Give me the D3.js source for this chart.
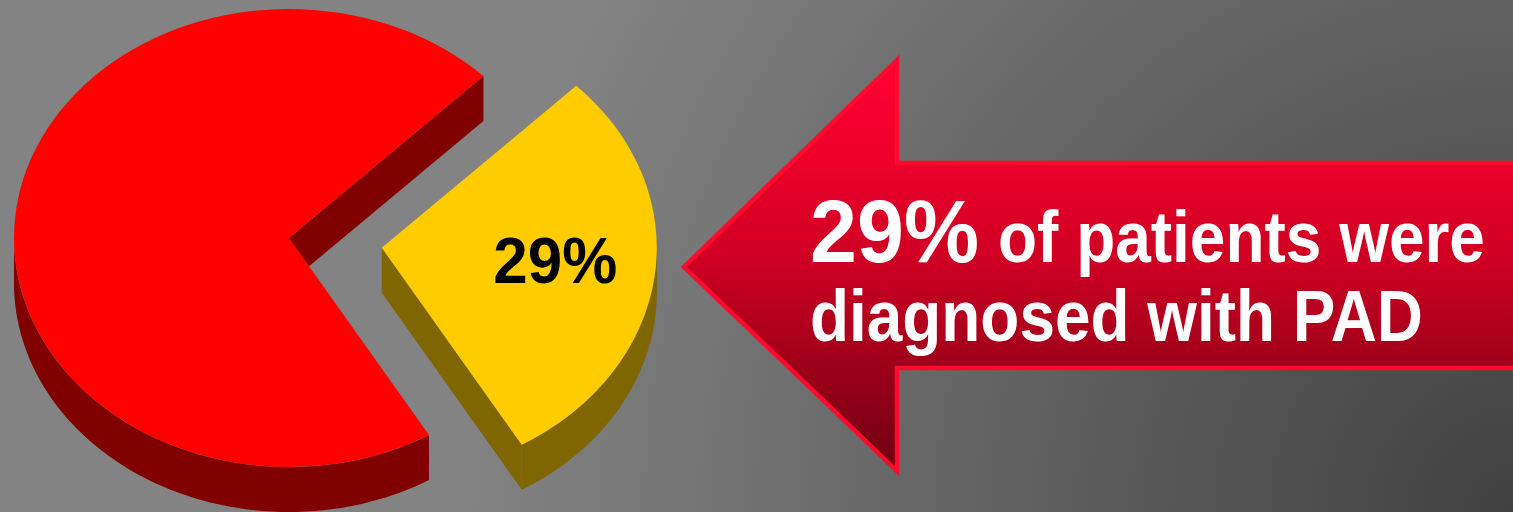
<!DOCTYPE html>
<html>
<head>
<meta charset="utf-8">
<script src="https://cdn.jsdelivr.net/npm/d3@7"></script>
<style>
  html, body { margin: 0; padding: 0; background: #808080; overflow: hidden; }
  svg { display: block; }
</style>
</head>
<body>
<svg id="chart" width="1513" height="512"></svg>
<script>
// Share of patients, in percent
const categories = ["Diagnosed with PAD", "Not diagnosed with PAD"];
const shares = [29, 71];
const topColors = ["#FFCC00", "#FF0000"];
const sideColors = ["#806600", "#800000"];
const calloutWords = ["of patients were", "diagnosed with PAD"];

const W = 1513, H = 512;
const svg = d3.select("#chart");
const defs = svg.append("defs");
const font = "'Liberation Sans', Arial, sans-serif";

// Backdrop: grey that darkens towards the lower right corner
const bg = defs.append("radialGradient").attr("id", "bg")
  .attr("gradientUnits", "userSpaceOnUse")
  .attr("cx", W).attr("cy", H).attr("r", 1050);
bg.append("stop").attr("offset", 0).attr("stop-color", "#414141");
bg.append("stop").attr("offset", 1).attr("stop-color", "#838383");
svg.append("rect").attr("width", W).attr("height", H).attr("fill", "url(#bg)");

// Draw a bold text whose glyphs are squeezed horizontally to a given width
function fittedText(parent, str, x, baseline, size, width, anchor, color) {
  const t = parent.append("text")
    .attr("font-family", font).attr("font-weight", "bold").attr("font-size", size)
    .attr("fill", color).text(str);
  const natural = t.node().getComputedTextLength();
  const sx = width / natural;
  const left = anchor === "middle" ? x - width / 2 : x;
  t.attr("transform", `translate(${left},${baseline}) scale(${sx},1)`);
  return t;
}

// ---- 3D pie ----
const cx = 289, cy = 238, rx = 275, ry = 229, depth = 45, explode = 0.34;
const pie = d3.pie().sort(null).value(d => d)
  .startAngle(Math.PI / 4).endAngle(Math.PI / 4 + 2 * Math.PI);
const arcs = pie(shares);
const pt = (a, r = 1) => [rx * r * Math.sin(a), -ry * r * Math.cos(a)];
const line = d3.line();
const topArc = d3.arc().innerRadius(0).outerRadius(rx);

// visible part of the outer wall: angles between 90deg and 270deg (mod 360)
function visibleRanges(a0, a1) {
  const out = [];
  for (let k = 0; k < 2; k++) {
    const lo = Math.PI / 2 + k * 2 * Math.PI, hi = 3 * Math.PI / 2 + k * 2 * Math.PI;
    const s = Math.max(a0, lo), e = Math.min(a1, hi);
    if (e > s) out.push([s, e]);
  }
  return out;
}

const pieG = svg.append("g").attr("transform", `translate(${cx},${cy})`);
// draw the large slice first, then the pulled-out slice
const order = [1, 0];
order.forEach(i => {
  const d = arcs[i];
  const mid = (d.startAngle + d.endAngle) / 2;
  const off = i === 0 ? pt(mid, explode) : [0, 0];
  const g = pieG.append("g").attr("transform", `translate(${off[0]},${off[1]})`);

  // radial cut faces that turn toward the viewer
  [[d.startAngle, Math.sin(d.startAngle) < 0], [d.endAngle, Math.sin(d.endAngle) > 0]]
    .filter(f => f[1])
    .forEach(([a]) => {
      const p = pt(a);
      g.append("path")
        .attr("d", line([[0, 0], p, [p[0], p[1] + depth], [0, depth]]) + "Z")
        .attr("fill", sideColors[i]);
    });

  // outer wall
  visibleRanges(d.startAngle, d.endAngle).forEach(([s, e]) => {
    const steps = d3.range(0, 121).map(k => s + (e - s) * k / 120);
    const upper = steps.map(a => pt(a));
    const lower = steps.slice().reverse().map(a => { const p = pt(a); return [p[0], p[1] + depth]; });
    g.append("path")
      .attr("d", line(upper.concat(lower)) + "Z")
      .attr("fill", sideColors[i]);
  });

  // top face
  g.append("path")
    .attr("transform", `scale(1,${ry / rx})`)
    .attr("d", topArc(d))
    .attr("fill", topColors[i]);

  if (i === 0) {
    const lp = pt(mid, 0.64);
    fittedText(g, shares[0] + "%", lp[0] - 1, lp[1] + 17, 64, 124, "middle", "#000");
  }
});

// ---- Callout arrow pointing at the pie ----
const tip = [684, 267], headX = 897, headTop = 60, headBot = 471, shaftTop = 163, shaftBot = 368;
const ag = defs.append("linearGradient").attr("id", "arrowFill")
  .attr("gradientUnits", "userSpaceOnUse")
  .attr("x1", 0).attr("y1", headTop).attr("x2", 0).attr("y2", headBot);
[[0, "#FF0033"], [0.25, "#EC0029"], [0.5, "#CC0022"], [0.75, "#9C0019"], [1, "#6E0012"]]
  .forEach(([o, c]) => ag.append("stop").attr("offset", o).attr("stop-color", c));

svg.append("path")
  .attr("d", line([tip, [headX, headTop], [headX, shaftTop], [W + 10, shaftTop],
                   [W + 10, shaftBot], [headX, shaftBot], [headX, headBot]]) + "Z")
  .attr("fill", "url(#arrowFill)")
  .attr("stroke", "#FF0A2C")
  .attr("stroke-width", 4.5)
  .attr("stroke-linejoin", "miter");

fittedText(svg, shares[0] + "%", 810, 262, 89, 169, "start", "#fff");
fittedText(svg, calloutWords[0], 998, 262, 72, 487, "start", "#fff");
fittedText(svg, calloutWords[1], 810, 341, 72, 613, "start", "#fff");
</script>
</body>
</html>
